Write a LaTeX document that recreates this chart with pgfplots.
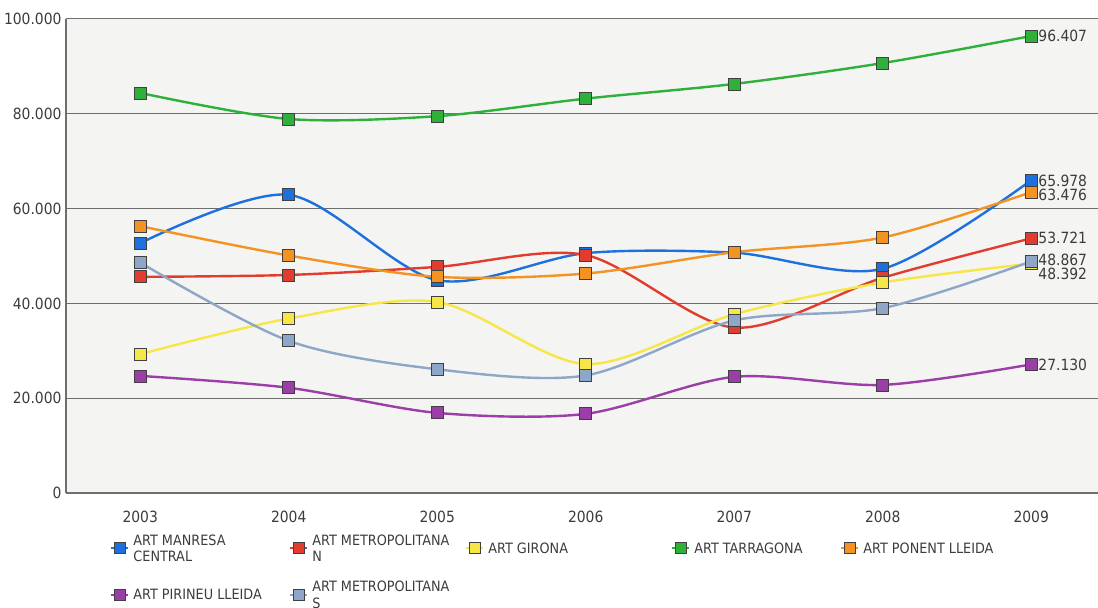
\documentclass[border=0pt]{standalone}
\usepackage{fontspec}
\setmainfont{DejaVu Sans Condensed}
\usepackage{pgfplots}
\pgfplotsset{compat=1.18}
\definecolor{cblue}{RGB}{30,112,222}
\definecolor{cred}{RGB}{226,60,46}
\definecolor{cyellow}{RGB}{246,230,70}
\definecolor{cgreen}{RGB}{46,176,58}
\definecolor{corange}{RGB}{243,147,34}
\definecolor{cpurple}{RGB}{155,62,168}
\definecolor{clight}{RGB}{142,166,199}
\definecolor{bg}{RGB}{244,244,242}
\definecolor{gridc}{RGB}{110,110,110}
\definecolor{txt}{RGB}{60,60,60}
\pgfplotsset{ser/.style={#1, mark options={draw=black!75, fill=#1, line width=0.8bp}}}
\newcommand{\lt}[2]{\parbox[c][34bp][c]{#1}{\raggedright #2}}
\begin{document}
\begin{tikzpicture}[x=1bp,y=1bp]
\useasboundingbox (0,0) rectangle (1098,608);
\begin{axis}[
  at={(66bp,115bp)}, anchor=south west,
  scale only axis, width=1032bp, height=474bp,
  xmin=2002.5, xmax=2009.45, ymin=0, ymax=100000,
  axis background/.style={fill=bg},
  axis lines*=left, axis line style={gridc, line width=1.2bp, -},
  scaled y ticks=false,
  ytick={0,20000,40000,60000,80000,100000},
  yticklabels={0,20.000,40.000,60.000,80.000,100.000},
  xtick={2003,2004,2005,2006,2007,2008,2009},
  xticklabels={2003,2004,2005,2006,2007,2008,2009},
  major tick length=0pt,
  ymajorgrids, grid style={gridc, line width=1bp},
  tick label style={font=\fontsize{15.5}{17}\selectfont, text=txt},
  xticklabel style={yshift=-15bp},
  yticklabel style={xshift=-1bp},
  every axis plot/.append style={smooth, line width=2.4bp, mark=square*,
     mark size=6bp},
  clip=false,
  legend columns=5,
  legend cell align=left,
  legend style={at={(0.040,-0.0762)}, anchor=north west, draw=none, fill=none,
     font=\fontsize{14.3}{16.5}\selectfont, text=txt,
     nodes={inner xsep=2bp, inner ysep=0pt},
     /tikz/every odd column/.append style={column sep=3bp},
     row sep=24bp},
  legend image code/.code={
     \draw[#1, yshift=-6bp, line width=2bp, mark repeat=2, mark phase=2, mark size=5.5bp]
       plot coordinates {(0bp,0bp) (8bp,0bp) (16bp,0bp)};},
]
\addplot[ser=cblue] coordinates {
 (2003,52700) (2004,62900) (2005,44900) (2006,50600) (2007,50700) (2008,47300) (2009,65978)};
\addlegendentry{\lt{154bp}{ART MANRESA\\CENTRAL}}
\addplot[ser=cred] coordinates {
 (2003,45600) (2004,46000) (2005,47700) (2006,50200) (2007,34900) (2008,45400) (2009,53721)};
\addlegendentry{\lt{151bp}{ART METROPOLITANA\\N}}
\addplot[ser=cyellow] coordinates {
 (2003,29300) (2004,36800) (2005,40300) (2006,27200) (2007,37700) (2008,44400) (2009,48392)};
\addlegendentry{\lt{181bp}{ART GIRONA}}
\addplot[ser=cgreen] coordinates {
 (2003,84400) (2004,78900) (2005,79500) (2006,83200) (2007,86300) (2008,90700) (2009,96407)};
\addlegendentry{\lt{144bp}{ART TARRAGONA}}
\addplot[ser=corange] coordinates {
 (2003,56300) (2004,50100) (2005,45600) (2006,46300) (2007,50800) (2008,53900) (2009,63476)};
\addlegendentry{\lt{160bp}{ART PONENT LLEIDA}}
\addplot[ser=cpurple] coordinates {
 (2003,24700) (2004,22200) (2005,16900) (2006,16700) (2007,24500) (2008,22800) (2009,27130)};
\addlegendentry{\lt{154bp}{ART PIRINEU LLEIDA}}
\addplot[ser=clight] coordinates {
 (2003,48600) (2004,32100) (2005,26100) (2006,24800) (2007,36400) (2008,39000) (2009,48867)};
\addlegendentry{\lt{151bp}{ART METROPOLITANA\\S}}
\begin{scope}[every node/.style={anchor=west, font=\fontsize{15.5}{17}\selectfont, text=txt, inner sep=0pt, xshift=7bp}]
\node at (axis cs:2009,96407) {96.407};
\node at (axis cs:2009,65800) {65.978};
\node at (axis cs:2009,62800) {63.476};
\node at (axis cs:2009,53721) {53.721};
\node at (axis cs:2009,49200) {48.867};
\node at (axis cs:2009,46200) {48.392};
\node at (axis cs:2009,27130) {27.130};
\end{scope}
\end{axis}
\end{tikzpicture}
\end{document}
